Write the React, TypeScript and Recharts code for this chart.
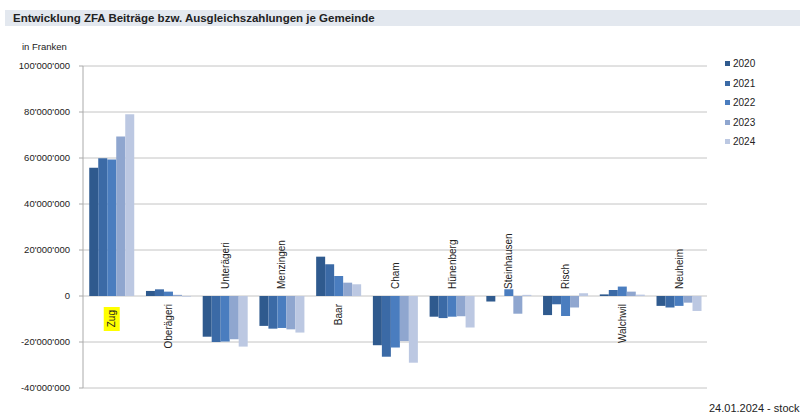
import { BarChart, Bar, XAxis, YAxis, CartesianGrid, LabelList } from "recharts";

const GEMEINDEN = [
  "Zug",
  "Oberägeri",
  "Unterägeri",
  "Menzingen",
  "Baar",
  "Cham",
  "Hünenberg",
  "Steinhausen",
  "Risch",
  "Walchwil",
  "Neuheim",
];

// Werte in Millionen Franken
const Y2020 = [55.8, 2.2, -17.7, -13.0, 17.1, -21.4, -9.0, -2.4, -8.3, 0.7, -4.3];
const Y2021 = [59.9, 2.9, -20.0, -14.2, 13.8, -26.4, -9.6, 0.0, -3.6, 2.6, -5.0];
const Y2022 = [59.3, 1.9, -19.8, -13.9, 8.7, -22.4, -9.0, 2.9, -8.7, 4.1, -4.3];
const Y2023 = [69.4, 0.5, -18.8, -14.5, 5.8, -19.6, -8.8, -7.7, -5.0, 1.9, -2.9];
const Y2024 = [79.0, -0.3, -22.0, -15.9, 5.1, -29.0, -13.7, 0.5, 1.2, 0.6, -6.5];

const YEARS = ["2020", "2021", "2022", "2023", "2024"];
const COLORS = ["#2f5a8e", "#3b6aa6", "#4a7dbf", "#8fa6cf", "#bcc8e2"];
const Y_TICKS = [-40e6, -20e6, 0, 20e6, 40e6, 60e6, 80e6, 100e6];
const HIGHLIGHT = ["Zug"];

const SERIES = [Y2020, Y2021, Y2022, Y2023, Y2024];

const data = GEMEINDEN.map((name, i) => {
  const row: Record<string, string | number> = { name };
  YEARS.forEach((y, s) => {
    row[y] = SERIES[s][i] * 1e6;
  });
  return row;
});

const FONT = "'Liberation Sans Narrow', 'Liberation Sans', Arial, sans-serif";

const fmt = (v: number) => {
  const s = Math.abs(v).toFixed(0).replace(/\B(?=(\d{3})+(?!\d))/g, "'");
  return v < 0 ? "-" + s : s;
};

// Gemeindenamen senkrecht an der Nulllinie, je nach Vorzeichen oben/unten
function GemeindeLabel(props: any) {
  const { x, y, width, height, index } = props;
  const name = GEMEINDEN[index];
  const cx = x + width / 2;
  const zeroY = y + height;
  const sum = SERIES.reduce((s, arr) => s + arr[index], 0);
  const below = sum >= 0;
  const hl = HIGHLIGHT.includes(name);
  const ay = below ? zeroY + (hl ? 14 : 8) : zeroY - 7;
  const anchor = below ? "end" : "start";
  const w = name.length * 6 + 6;
  return (
    <g transform={`translate(${cx},${ay}) rotate(-90)`}>
      {hl && <rect x={-w + 3} y={-8} width={w} height={16} fill="#ffff00" />}
      <text
        x={0}
        y={0}
        textAnchor={anchor}
        dominantBaseline="central"
        fontSize={10}
        fontFamily={FONT}
        fill="#222"
      >
        {name}
      </text>
    </g>
  );
}

export default function App() {
  return (
    <div
      style={{
        position: "fixed",
        left: 0,
        top: 0,
        width: 800,
        height: 419,
        overflow: "hidden",
        background: "#fff",
        fontFamily: FONT,
      }}
    >
      <div
        style={{
          position: "absolute",
          left: 5,
          top: 10,
          width: 795,
          height: 16,
          background: "#e3e8ef",
          fontFamily: "'Liberation Sans', Arial, sans-serif",
          fontWeight: "bold",
          fontSize: 11.5,
          lineHeight: "16px",
          paddingLeft: 8,
          color: "#222",
        }}
      >
        Entwicklung ZFA Beiträge bzw. Ausgleichszahlungen je Gemeinde
      </div>
      <div style={{ position: "absolute", left: 22, top: 41, fontSize: 9.5, color: "#222" }}>in Franken</div>
      <div style={{ position: "absolute", left: 0, top: 0 }}>
        <BarChart
          width={800}
          height={419}
          data={data}
          margin={{ top: 66, right: 93, bottom: 31, left: 8 }}
          barCategoryGap="11%"
          barGap={0}
        >
          <CartesianGrid vertical={false} stroke="#c4c4c4" />
          <XAxis dataKey="name" hide />
          <YAxis
            width={75}
            domain={[-40e6, 100e6]}
            ticks={Y_TICKS}
            tickFormatter={fmt}
            tickSize={4}
            tickMargin={9}
            axisLine={{ stroke: "#aaa" }}
            tickLine={{ stroke: "#aaa" }}
            tick={{ fontSize: 9.5, fill: "#222", fontFamily: FONT }}
          />
          {YEARS.map((y, s) => (
            <Bar key={y} dataKey={y} fill={COLORS[s]} isAnimationActive={false}>
              {s === 2 && <LabelList dataKey={y} content={<GemeindeLabel />} />}
            </Bar>
          ))}
        </BarChart>
      </div>
      <div style={{ position: "absolute", left: 725, top: 54 }}>
        {YEARS.map((y, s) => (
          <div key={y} style={{ display: "flex", alignItems: "center", height: 19.5, fontSize: 10, color: "#222" }}>
            <span style={{ display: "inline-block", width: 5, height: 5, background: COLORS[s], marginRight: 3 }} />
            {y}
          </div>
        ))}
      </div>
      <div style={{ position: "absolute", left: 709, top: 402, fontSize: 11, color: "#222", whiteSpace: "nowrap" }}>
        24.01.2024 - stock
      </div>
    </div>
  );
}
